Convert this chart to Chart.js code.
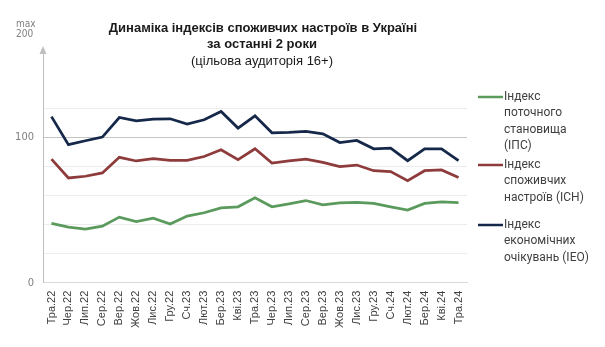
<!DOCTYPE html>
<html>
<head>
<meta charset="utf-8">
<script src="https://cdn.jsdelivr.net/npm/chart.js@4/dist/chart.umd.min.js"></script>
<style>
html,body{margin:0;padding:0;background:#fff;}
#wrap{position:relative;width:605px;height:347px;}
</style>
</head>
<body>
<div id="wrap"><canvas id="c" width="605" height="347"></canvas></div>
<script>
const categories = ['Тра.22','Чер.22','Лип.22','Сер.22','Вер.22','Жов.22','Лис.22','Гру.22','Сч.23','Лют.23','Бер.23','Кві.23','Тра.23','Чер.23','Лип.23','Сер.23','Вер.23','Жов.23','Лис.23','Гру.23','Сч.24','Лют.24','Бер.24','Кві.24','Тра.24'];
const ipsValues = [40.8,38.2,36.9,38.9,45.1,42.1,44.4,40.3,45.8,48.1,51.5,52.2,58.4,52.2,54.2,56.5,53.6,54.9,55.3,54.5,52.2,49.9,54.5,55.6,55.1];
const ichValues = [85.0,72.0,73.2,75.5,86.2,83.7,85.3,84.1,84.1,86.8,91.4,84.6,92.1,82.3,83.7,85.0,82.7,79.8,80.9,77.0,76.4,70.2,77.0,77.5,72.3];
const ieoValues = [114.2,94.9,97.6,100.1,113.6,111.3,112.5,112.7,109.0,112.0,117.7,106.3,114.7,103.1,103.3,104.0,102.4,96.4,97.8,92.1,92.6,83.9,92.1,92.1,83.9];
const seriesNames = [['Індекс','поточного','становища','(ІПС)'],['Індекс','споживчих','настроїв (ІСН)'],['Індекс','економічних','очікувань (ІЕО)']];
const seriesColors = ['#5a9a5c','#8e3b3c','#15284a'];
const yTickLabels = {0:'0',100:'100'};
const titleLines = ['Динаміка індексів споживчих настроїв в Україні','за останні 2 роки','(цільова аудиторія 16+)'];
const axisMaxLabel = ['max','200'];

const decor = {
  id:'decor',
  afterDraw(chart){
    const ctx = chart.ctx;
    const y = chart.scales.y;
    const ca = chart.chartArea;
    ctx.save();
    ctx.fillStyle = '#bfbfbf';
    ctx.beginPath();
    ctx.moveTo(ca.left, ca.top - 4);
    ctx.lineTo(ca.left - 3.5, ca.top + 4);
    ctx.lineTo(ca.left + 3.5, ca.top + 4);
    ctx.closePath();
    ctx.fill();
    ctx.fillStyle = '#7f7f7f';
    ctx.font = '11px "DejaVu Sans Condensed", "Liberation Sans", sans-serif';
    ctx.textAlign = 'right';
    ctx.textBaseline = 'middle';
    for (const k in yTickLabels) {
      ctx.fillText(yTickLabels[k], ca.left - 9, y.getPixelForValue(+k));
    }
    ctx.font = '10px "DejaVu Sans Condensed", "Liberation Sans", sans-serif';
    ctx.textAlign = 'left';
    ctx.fillText(axisMaxLabel[0], 16, 24);
    ctx.fillText(axisMaxLabel[1], 16, 34);
    ctx.fillStyle = '#1a1a1a';
    ctx.textAlign = 'center';
    ctx.font = 'bold 13px "Liberation Sans", Arial, sans-serif';
    ctx.fillText(titleLines[0], 263, 28);
    ctx.fillText(titleLines[1], 262, 44);
    ctx.font = '13px "Liberation Sans", Arial, sans-serif';
    ctx.fillText(titleLines[2], 262, 61);
    const legY = [97,165,225];
    ctx.font = '12px Roboto, "Noto Sans", sans-serif';
    ctx.textAlign = 'left';
    chart.data.datasets.forEach((ds,i)=>{
      const ly = legY[i];
      ctx.strokeStyle = ds.borderColor;
      ctx.lineWidth = 2.5;
      ctx.beginPath();
      ctx.moveTo(478, ly);
      ctx.lineTo(503, ly);
      ctx.stroke();
      ctx.fillStyle = '#404040';
      seriesNames[i].forEach((t,j)=>{
        ctx.fillText(t, 504, ly + j*16.3);
      });
    });
    ctx.restore();
  }
};

new Chart(document.getElementById('c'), {
  type:'line',
  data:{
    labels: categories,
    datasets:[
      {label:seriesNames[0].join(' '), data:ipsValues, borderColor:seriesColors[0]},
      {label:seriesNames[1].join(' '), data:ichValues, borderColor:seriesColors[1]},
      {label:seriesNames[2].join(' '), data:ieoValues, borderColor:seriesColors[2]}
    ]
  },
  options:{
    responsive:false,
    animation:false,
    devicePixelRatio:1,
    elements:{ line:{borderWidth:2.75, tension:0, fill:false, borderJoinStyle:'miter'}, point:{radius:0} },
    layout:{ padding:{left:43, right:138, top:50, bottom:11} },
    plugins:{ legend:{display:false}, title:{display:false}, tooltip:{enabled:false} },
    scales:{
      x:{
        offset:true,
        grid:{display:false, drawTicks:false},
        border:{display:true, color:'#d9d9d9', width:1},
        ticks:{minRotation:90, maxRotation:90, autoSkip:false, padding:8, color:'#404040', font:{family:'"Liberation Sans", Arial, sans-serif', size:11}}
      },
      y:{
        min:0, max:160,
        ticks:{display:false, stepSize:20},
        grid:{drawTicks:false, color:(c)=>{ const v=c.tick.value; if(v===100) return '#c4c4c4'; if(v>0 && v<=120) return '#ececec'; return 'rgba(0,0,0,0)'; }},
        border:{display:true, color:'#bfbfbf', width:1}
      }
    }
  },
  plugins:[decor]
});
</script>
</body>
</html>
